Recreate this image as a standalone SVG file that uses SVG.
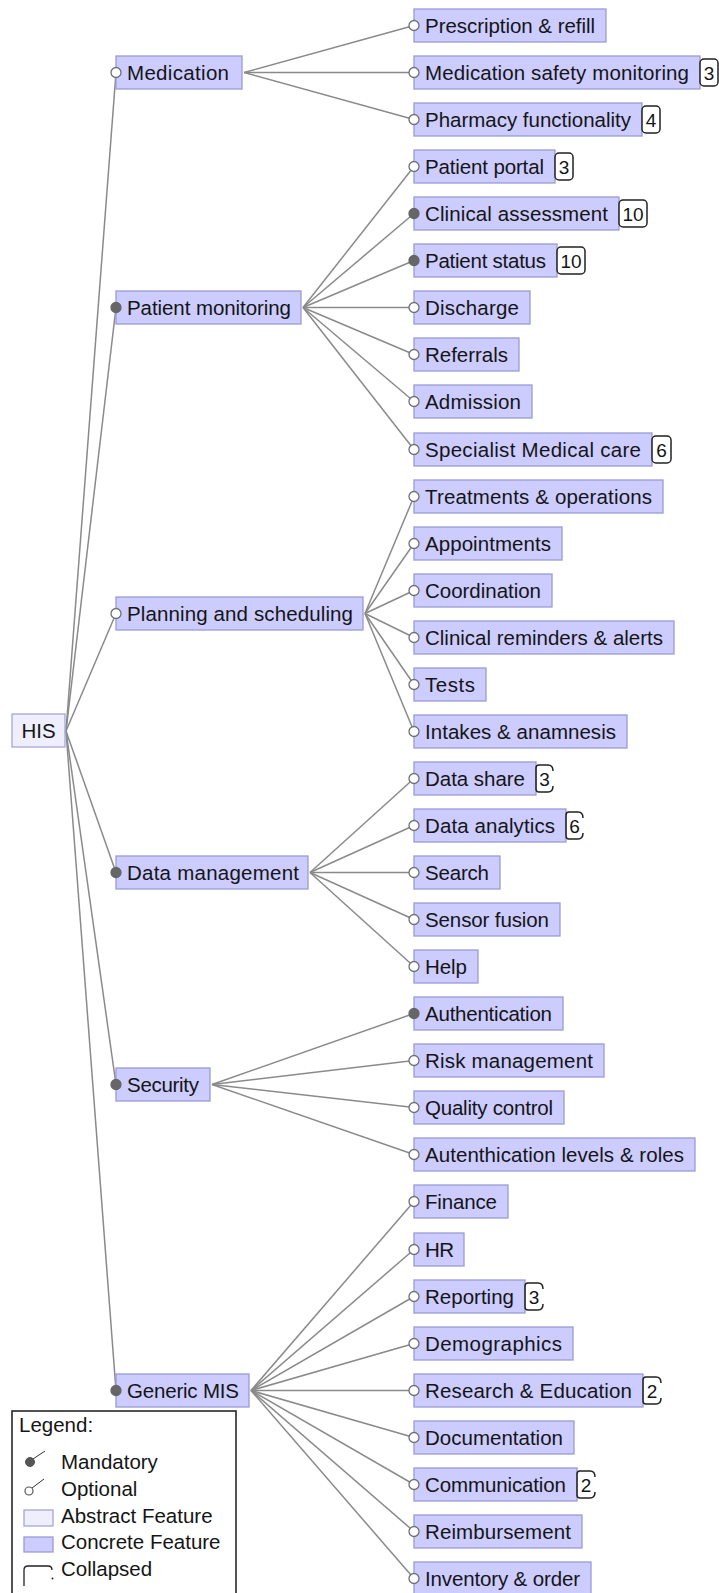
<svg xmlns="http://www.w3.org/2000/svg" width="719" height="1593" viewBox="0 0 719 1593">
<style>
text{font-family:"Liberation Sans",Arial,sans-serif;font-size:20.5px;fill:#151515}
.cf{fill:#ccccff;stroke:#9b9bd6;stroke-width:1.3}
.af{fill:#eeeefc;stroke:#a6a6d6;stroke-width:1.3}
.c line{stroke:#8a8a8a;stroke-width:1.5}
.opt{fill:#ffffff;stroke:#707070;stroke-width:1.3}
.man{fill:#666666;stroke:#666666;stroke-width:1.3}
.bd{fill:#ffffff;stroke:#222;stroke-width:1.5}
.bk{fill:none;stroke:#222;stroke-width:1.5}
.bt{text-anchor:middle;font-size:19px}
</style>
<rect width="719" height="1593" fill="#ffffff"/>
<g id="connectors" class="c">
<line x1="66" y1="731" x2="116" y2="72.5"/>
<line x1="66" y1="731" x2="116" y2="307.5"/>
<line x1="66" y1="731" x2="116" y2="613.5"/>
<line x1="66" y1="731" x2="116" y2="872.5"/>
<line x1="66" y1="731" x2="116" y2="1084.5"/>
<line x1="66" y1="731" x2="116" y2="1390.5"/>
<line x1="244" y1="72.5" x2="414" y2="25.5"/>
<line x1="244" y1="72.5" x2="414" y2="72.5"/>
<line x1="244" y1="72.5" x2="414" y2="119.5"/>
<line x1="303" y1="307.5" x2="414" y2="166.5"/>
<line x1="303" y1="307.5" x2="414" y2="213.5"/>
<line x1="303" y1="307.5" x2="414" y2="260.5"/>
<line x1="303" y1="307.5" x2="414" y2="307.5"/>
<line x1="303" y1="307.5" x2="414" y2="354.5"/>
<line x1="303" y1="307.5" x2="414" y2="401.5"/>
<line x1="303" y1="307.5" x2="414" y2="449.5"/>
<line x1="365" y1="613.5" x2="414" y2="496.5"/>
<line x1="365" y1="613.5" x2="414" y2="543.5"/>
<line x1="365" y1="613.5" x2="414" y2="590.5"/>
<line x1="365" y1="613.5" x2="414" y2="637.5"/>
<line x1="365" y1="613.5" x2="414" y2="684.5"/>
<line x1="365" y1="613.5" x2="414" y2="731.5"/>
<line x1="310" y1="872.5" x2="414" y2="778.5"/>
<line x1="310" y1="872.5" x2="414" y2="825.5"/>
<line x1="310" y1="872.5" x2="414" y2="872.5"/>
<line x1="310" y1="872.5" x2="414" y2="919.5"/>
<line x1="310" y1="872.5" x2="414" y2="966.5"/>
<line x1="212" y1="1084.5" x2="414" y2="1013.5"/>
<line x1="212" y1="1084.5" x2="414" y2="1060.5"/>
<line x1="212" y1="1084.5" x2="414" y2="1107.5"/>
<line x1="212" y1="1084.5" x2="414" y2="1154.5"/>
<line x1="251" y1="1390.5" x2="414" y2="1201.5"/>
<line x1="251" y1="1390.5" x2="414" y2="1249.5"/>
<line x1="251" y1="1390.5" x2="414" y2="1296.5"/>
<line x1="251" y1="1390.5" x2="414" y2="1343.5"/>
<line x1="251" y1="1390.5" x2="414" y2="1390.5"/>
<line x1="251" y1="1390.5" x2="414" y2="1437.5"/>
<line x1="251" y1="1390.5" x2="414" y2="1484.5"/>
<line x1="251" y1="1390.5" x2="414" y2="1531.5"/>
<line x1="251" y1="1390.5" x2="414" y2="1578.5"/>
</g>

<g id="n-his"><rect class="af" x="12" y="714" width="53" height="33"/><text x="38.5" y="738" text-anchor="middle">HIS</text></g>

<g id="n-medication"><rect class="cf" x="116" y="56" width="126" height="33"/><text x="127" y="80" textLength="102">Medication</text><circle class="opt" cx="116" cy="72.5" r="5"/></g>
<g id="n-patient-monitoring"><rect class="cf" x="116" y="291" width="185" height="33"/><text x="127" y="315" textLength="164">Patient monitoring</text><circle class="man" cx="116" cy="307.5" r="5"/></g>
<g id="n-planning"><rect class="cf" x="116" y="597" width="247" height="33"/><text x="127" y="621" textLength="226">Planning and scheduling</text><circle class="opt" cx="116" cy="613.5" r="5"/></g>
<g id="n-data-management"><rect class="cf" x="116" y="856" width="192" height="33"/><text x="127" y="880" textLength="172">Data management</text><circle class="man" cx="116" cy="872.5" r="5"/></g>
<g id="n-security"><rect class="cf" x="116" y="1068" width="94" height="33"/><text x="127" y="1092" textLength="72">Security</text><circle class="man" cx="116" cy="1084.5" r="5"/></g>
<g id="n-generic-mis"><rect class="cf" x="116" y="1374" width="133" height="33"/><text x="127" y="1398" textLength="112">Generic MIS</text><circle class="man" cx="116" cy="1390.5" r="5"/></g>

<g id="n-prescription"><rect class="cf" x="414" y="9" width="192" height="33"/><text x="425" y="33" textLength="170">Prescription &amp; refill</text><circle class="opt" cx="414" cy="25.5" r="5"/></g>
<g id="n-med-safety"><rect class="cf" x="414" y="56" width="286" height="33"/><text x="425" y="80" textLength="264">Medication safety monitoring</text><rect class="bd" x="700" y="59" width="18" height="27" rx="4"/><text class="bt" x="709" y="80">3</text><circle class="opt" cx="414" cy="72.5" r="5"/></g>
<g id="n-pharmacy"><rect class="cf" x="414" y="103" width="228" height="33"/><text x="425" y="127" textLength="206">Pharmacy functionality</text><rect class="bd" x="642" y="106" width="18" height="27" rx="4"/><text class="bt" x="651" y="127">4</text><circle class="opt" cx="414" cy="119.5" r="5"/></g>
<g id="n-patient-portal"><rect class="cf" x="414" y="150" width="141" height="33"/><text x="425" y="174" textLength="119">Patient portal</text><rect class="bd" x="555" y="153" width="18" height="27" rx="4"/><text class="bt" x="564" y="174">3</text><circle class="opt" cx="414" cy="166.5" r="5"/></g>
<g id="n-clinical-assessment"><rect class="cf" x="414" y="197" width="205" height="33"/><text x="425" y="221" textLength="183">Clinical assessment</text><rect class="bd" x="619" y="200" width="28" height="27" rx="4"/><text class="bt" x="633" y="221">10</text><circle class="man" cx="414" cy="213.5" r="5"/></g>
<g id="n-patient-status"><rect class="cf" x="414" y="244" width="143" height="33"/><text x="425" y="268" textLength="121">Patient status</text><rect class="bd" x="557" y="247" width="28" height="27" rx="4"/><text class="bt" x="571" y="268">10</text><circle class="man" cx="414" cy="260.5" r="5"/></g>
<g id="n-discharge"><rect class="cf" x="414" y="291" width="116" height="33"/><text x="425" y="315" textLength="94">Discharge</text><circle class="opt" cx="414" cy="307.5" r="5"/></g>
<g id="n-referrals"><rect class="cf" x="414" y="338" width="105" height="33"/><text x="425" y="362" textLength="83">Referrals</text><circle class="opt" cx="414" cy="354.5" r="5"/></g>
<g id="n-admission"><rect class="cf" x="414" y="385" width="118" height="33"/><text x="425" y="409" textLength="96">Admission</text><circle class="opt" cx="414" cy="401.5" r="5"/></g>
<g id="n-specialist"><rect class="cf" x="414" y="433" width="238" height="33"/><text x="425" y="457" textLength="216">Specialist Medical care</text><rect class="bd" x="652" y="436" width="19" height="27" rx="4"/><text class="bt" x="661.5" y="457">6</text><circle class="opt" cx="414" cy="449.5" r="5"/></g>
<g id="n-treatments"><rect class="cf" x="414" y="480" width="249" height="33"/><text x="425" y="504" textLength="227">Treatments &amp; operations</text><circle class="opt" cx="414" cy="496.5" r="5"/></g>
<g id="n-appointments"><rect class="cf" x="414" y="527" width="148" height="33"/><text x="425" y="551" textLength="126">Appointments</text><circle class="opt" cx="414" cy="543.5" r="5"/></g>
<g id="n-coordination"><rect class="cf" x="414" y="574" width="138" height="33"/><text x="425" y="598" textLength="116">Coordination</text><circle class="opt" cx="414" cy="590.5" r="5"/></g>
<g id="n-reminders"><rect class="cf" x="414" y="621" width="260" height="33"/><text x="425" y="645" textLength="238">Clinical reminders &amp; alerts</text><circle class="opt" cx="414" cy="637.5" r="5"/></g>
<g id="n-tests"><rect class="cf" x="414" y="668" width="72" height="33"/><text x="425" y="692" textLength="50">Tests</text><circle class="opt" cx="414" cy="684.5" r="5"/></g>
<g id="n-intakes"><rect class="cf" x="414" y="715" width="213" height="33"/><text x="425" y="739" textLength="191">Intakes &amp; anamnesis</text><circle class="opt" cx="414" cy="731.5" r="5"/></g>
<g id="n-data-share"><rect class="cf" x="414" y="762" width="122" height="33"/><text x="425" y="786" textLength="100">Data share</text><path class="bk" d="M553,771 Q553,765 548,765 H539 Q536,765 536,768 V789 Q536,792 539,792 H548 Q553,792 553,786"/><text class="bt" x="544.5" y="786">3</text><circle class="opt" cx="414" cy="778.5" r="5"/></g>
<g id="n-data-analytics"><rect class="cf" x="414" y="809" width="152" height="33"/><text x="425" y="833" textLength="130">Data analytics</text><path class="bk" d="M583,818 Q583,812 578,812 H569 Q566,812 566,815 V836 Q566,839 569,839 H578 Q583,839 583,833"/><text class="bt" x="574.5" y="833">6</text><circle class="opt" cx="414" cy="825.5" r="5"/></g>
<g id="n-search"><rect class="cf" x="414" y="856" width="86" height="33"/><text x="425" y="880" textLength="64">Search</text><circle class="opt" cx="414" cy="872.5" r="5"/></g>
<g id="n-sensor-fusion"><rect class="cf" x="414" y="903" width="146" height="33"/><text x="425" y="927" textLength="124">Sensor fusion</text><circle class="opt" cx="414" cy="919.5" r="5"/></g>
<g id="n-help"><rect class="cf" x="414" y="950" width="64" height="33"/><text x="425" y="974" textLength="42">Help</text><circle class="opt" cx="414" cy="966.5" r="5"/></g>
<g id="n-authentication"><rect class="cf" x="414" y="997" width="149" height="33"/><text x="425" y="1021" textLength="127">Authentication</text><circle class="man" cx="414" cy="1013.5" r="5"/></g>
<g id="n-risk"><rect class="cf" x="414" y="1044" width="190" height="33"/><text x="425" y="1068" textLength="168">Risk management</text><circle class="opt" cx="414" cy="1060.5" r="5"/></g>
<g id="n-quality"><rect class="cf" x="414" y="1091" width="150" height="33"/><text x="425" y="1115" textLength="128">Quality control</text><circle class="opt" cx="414" cy="1107.5" r="5"/></g>
<g id="n-auth-levels"><rect class="cf" x="414" y="1138" width="281" height="33"/><text x="425" y="1162" textLength="259">Autenthication levels &amp; roles</text><circle class="opt" cx="414" cy="1154.5" r="5"/></g>
<g id="n-finance"><rect class="cf" x="414" y="1185" width="94" height="33"/><text x="425" y="1209" textLength="72">Finance</text><circle class="opt" cx="414" cy="1201.5" r="5"/></g>
<g id="n-hr"><rect class="cf" x="414" y="1233" width="50" height="33"/><text x="425" y="1257" textLength="29">HR</text><circle class="opt" cx="414" cy="1249.5" r="5"/></g>
<g id="n-reporting"><rect class="cf" x="414" y="1280" width="111" height="33"/><text x="425" y="1304" textLength="89">Reporting</text><path class="bk" d="M543,1289 Q543,1283 538,1283 H528 Q525,1283 525,1286 V1307 Q525,1310 528,1310 H538 Q543,1310 543,1304"/><text class="bt" x="534" y="1304">3</text><circle class="opt" cx="414" cy="1296.5" r="5"/></g>
<g id="n-demographics"><rect class="cf" x="414" y="1327" width="159" height="33"/><text x="425" y="1351" textLength="137">Demographics</text><circle class="opt" cx="414" cy="1343.5" r="5"/></g>
<g id="n-research"><rect class="cf" x="414" y="1374" width="229" height="33"/><text x="425" y="1398" textLength="207">Research &amp; Education</text><path class="bk" d="M661,1383 Q661,1377 656,1377 H646 Q643,1377 643,1380 V1401 Q643,1404 646,1404 H656 Q661,1404 661,1398"/><text class="bt" x="652" y="1398">2</text><circle class="opt" cx="414" cy="1390.5" r="5"/></g>
<g id="n-documentation"><rect class="cf" x="414" y="1421" width="160" height="33"/><text x="425" y="1445" textLength="138">Documentation</text><circle class="opt" cx="414" cy="1437.5" r="5"/></g>
<g id="n-communication"><rect class="cf" x="414" y="1468" width="163" height="33"/><text x="425" y="1492" textLength="141">Communication</text><path class="bk" d="M595,1477 Q595,1471 590,1471 H580 Q577,1471 577,1474 V1495 Q577,1498 580,1498 H590 Q595,1498 595,1492"/><text class="bt" x="586" y="1492">2</text><circle class="opt" cx="414" cy="1484.5" r="5"/></g>
<g id="n-reimbursement"><rect class="cf" x="414" y="1515" width="168" height="33"/><text x="425" y="1539" textLength="146">Reimbursement</text><circle class="opt" cx="414" cy="1531.5" r="5"/></g>
<g id="n-inventory"><rect class="cf" x="414" y="1562" width="177" height="33"/><text x="425" y="1586" textLength="155">Inventory &amp; order</text><circle class="opt" cx="414" cy="1578.5" r="5"/></g>

<g id="legend">
<rect x="12" y="1411" width="224" height="200" fill="#ffffff" stroke="#1a1a1a" stroke-width="1.5"/>
<text x="19" y="1432">Legend:</text>
<line x1="33" y1="1459" x2="45" y2="1451" stroke="#333" stroke-width="1"/>
<circle cx="30" cy="1462" r="4.5" fill="#555" stroke="#555" stroke-width="1"/>
<text x="61" y="1469">Mandatory</text>
<line x1="32" y1="1488" x2="44" y2="1479" stroke="#333" stroke-width="1"/>
<circle cx="29" cy="1491" r="4" fill="#fff" stroke="#555" stroke-width="1.2"/>
<text x="61" y="1496">Optional</text>
<rect class="af" x="24" y="1510" width="29" height="16"/>
<text x="61" y="1523">Abstract Feature</text>
<rect class="cf" x="24" y="1537" width="29" height="15"/>
<text x="61" y="1549">Concrete Feature</text>
<path d="M24,1586 V1570 Q24,1566 28,1566 H48 Q52,1566 52,1570" fill="none" stroke="#222" stroke-width="1.3"/>
<circle cx="52.5" cy="1578.5" r="1" fill="#222"/>
<text x="61" y="1576">Collapsed</text>
</g>
</svg>
